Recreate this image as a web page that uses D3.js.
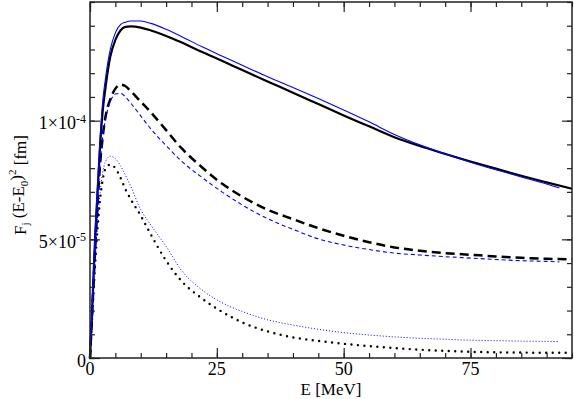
<!DOCTYPE html>
<html>
<head>
<meta charset="utf-8">
<script src="https://cdn.jsdelivr.net/npm/d3@7"></script>
<style>
    body { margin: 0; background: #fff; }
    svg { display: block; font-family: "Liberation Serif", "Times New Roman", serif; }
</style>
</head>
<body>
<svg id="chartSvg" width="574" height="399"></svg>
<script>
// energy grids (MeV); the blue curves stop a little before the end
const energyBlack = [0, 0.5, 1, 1.5, 2, 2.5, 3, 4, 5, 6, 7, 8, 10, 12, 15, 18, 22, 26, 30, 35, 40, 45, 50, 55, 60, 65, 70, 75, 80, 85, 90, 95];
const energyBlue = [0, 0.5, 1, 1.5, 2, 2.5, 3, 4, 5, 6, 7, 8, 10, 12, 15, 18, 22, 26, 30, 35, 40, 45, 50, 55, 60, 65, 70, 75, 80, 85, 90, 92.5];

// values in units of 1e-5 fm
const blackSolid = [0, 2.4, 5.0, 7.0, 9.0, 10.4, 11.3, 12.7, 13.4, 13.8, 13.95, 13.97, 13.92, 13.8, 13.57, 13.3, 12.9, 12.52, 12.13, 11.65, 11.18, 10.7, 10.22, 9.76, 9.3, 8.93, 8.6, 8.28, 7.98, 7.68, 7.4, 7.13];
const blueSolid = [0, 2.6, 5.3, 7.4, 9.3, 10.8, 11.7, 13.0, 13.7, 14.05, 14.15, 14.2, 14.2, 14.1, 13.85, 13.55, 13.12, 12.72, 12.33, 11.85, 11.4, 10.93, 10.45, 9.95, 9.42, 8.98, 8.6, 8.25, 7.93, 7.63, 7.33, 7.16];
const blackDashed = [0, 2.2, 4.5, 6.5, 8.2, 9.3, 10.1, 10.9, 11.35, 11.52, 11.45, 11.25, 10.8, 10.35, 9.6, 8.85, 8.05, 7.35, 6.8, 6.25, 5.85, 5.47, 5.15, 4.88, 4.66, 4.52, 4.42, 4.35, 4.28, 4.22, 4.18, 4.16];
const blueDashed = [0, 2.3, 4.6, 6.6, 8.2, 9.3, 10.0, 10.8, 11.12, 11.15, 11.0, 10.75, 10.2, 9.65, 8.95, 8.3, 7.62, 7.0, 6.45, 5.87, 5.42, 5.02, 4.76, 4.57, 4.42, 4.34, 4.27, 4.21, 4.15, 4.1, 4.07, 4.05];
const blackDotted = [0, 2.0, 3.9, 5.5, 6.7, 7.5, 7.95, 8.15, 8.0, 7.6, 7.1, 6.7, 6.0, 5.2, 4.1, 3.25, 2.52, 1.95, 1.5, 1.12, 0.87, 0.72, 0.6, 0.5, 0.42, 0.35, 0.3, 0.26, 0.24, 0.23, 0.22, 0.22];
const blueDotted = [0, 2.1, 4.1, 5.8, 7.0, 7.8, 8.25, 8.5, 8.4, 8.1, 7.7, 7.25, 6.25, 5.6, 4.7, 3.7, 2.88, 2.33, 1.96, 1.61, 1.39, 1.21, 1.07, 0.97, 0.89, 0.83, 0.79, 0.75, 0.73, 0.71, 0.7, 0.69];

const xTicks = [0, 25, 50, 75];
const yTicks = [0, 5e-5, 1e-4];
const yTickLabels = [["0", ""], ["5×10", "-5"], ["1×10", "-4"]];

document.addEventListener('DOMContentLoaded', function () {
    drawChart();
});

function drawChart() {
    const svg = d3.select('#chartSvg');
    const margin = { top: 2, bottom: 41, right: 2, left: 90 };
    const width = 574, height = 399;
    const innerWidth = width - margin.left - margin.right;
    const innerHeight = height - margin.top - margin.bottom;

    const xScale = d3.scaleLinear().domain([0, 95]).range([0, innerWidth]);
    const yScale = d3.scaleLinear().domain([0, 1.5e-4]).range([innerHeight, 0]);

    const g = svg.append('g')
        .attr('transform', 'translate(' + margin.left + ', ' + margin.top + ')');

    const series = [
        { x: energyBlack, y: blackSolid, color: '#000', width: 2.2, dash: null },
        { x: energyBlack, y: blackDashed, color: '#000', width: 2.5, dash: '9,5' },
        { x: energyBlack, y: blackDotted, color: '#000', width: 2.4, dash: '0,6.5', cap: 'round' },
        { x: energyBlue, y: blueSolid, color: '#0000ff', width: 1.1, dash: null },
        { x: energyBlue, y: blueDashed, color: '#0000ff', width: 1.1, dash: '4,3' },
        { x: energyBlue, y: blueDotted, color: '#0000ff', width: 1, dash: '1,2' }
    ];

    const line = d3.line()
        .x(d => xScale(d[0]))
        .y(d => yScale(d[1] * 1e-5))
        .curve(d3.curveMonotoneX);

    const plot = g.append('g');
    series.forEach(s => {
        plot.append('path')
            .datum(s.x.map((e, i) => [e, s.y[i]]))
            .attr('d', line)
            .attr('fill', 'none')
            .attr('stroke', s.color)
            .attr('stroke-width', s.width)
            .attr('stroke-dasharray', s.dash)
            .attr('stroke-linecap', s.cap || 'butt');
    });

    // ticks on all four sides, pointing inwards
    const xMinor = d3.range(0, 96, 5);
    const yMinor = d3.range(0, 1.5e-4 + 1e-9, 1e-5);
    const tickColor = '#222';

    const axisBottom = d3.axisBottom(xScale).tickValues(xTicks).tickSize(-10).tickFormat('');
    const axisBottomMinor = d3.axisBottom(xScale).tickValues(xMinor).tickSize(-5).tickFormat('');
    const axisTop = d3.axisTop(xScale).tickValues(xTicks).tickSize(-10).tickFormat('');
    const axisTopMinor = d3.axisTop(xScale).tickValues(xMinor).tickSize(-5).tickFormat('');
    const axisLeft = d3.axisLeft(yScale).tickValues(yTicks).tickSize(-10).tickFormat('');
    const axisLeftMinor = d3.axisLeft(yScale).tickValues(yMinor).tickSize(-5).tickFormat('');
    const axisRight = d3.axisRight(yScale).tickValues(yTicks).tickSize(-10).tickFormat('');
    const axisRightMinor = d3.axisRight(yScale).tickValues(yMinor).tickSize(-5).tickFormat('');

    [[axisBottom, innerHeight, 0], [axisBottomMinor, innerHeight, 0],
     [axisTop, 0, 0], [axisTopMinor, 0, 0],
     [axisLeft, 0, 0], [axisLeftMinor, 0, 0],
     [axisRight, 0, innerWidth], [axisRightMinor, 0, innerWidth]].forEach(a => {
        const ax = g.append('g')
            .attr('transform', `translate(${a[2]},${a[1]})`)
            .call(a[0]);
        ax.select('.domain').remove();
        ax.selectAll('line').attr('stroke', tickColor).attr('stroke-width', 1.2);
    });

    g.append('rect')
        .attr('x', 0).attr('y', 0)
        .attr('width', innerWidth).attr('height', innerHeight)
        .attr('fill', 'none')
        .attr('stroke', tickColor)
        .attr('stroke-width', 1.5);

    // tick labels
    g.selectAll('.xlabel')
        .data(xTicks)
        .enter()
        .append('text')
        .attr('class', 'xlabel')
        .attr('x', d => xScale(d))
        .attr('y', innerHeight + 17)
        .attr('text-anchor', 'middle')
        .style('font-size', '18px')
        .text(d => d);

    yTicks.forEach((v, i) => {
        const t = g.append('text')
            .attr('x', -4)
            .attr('y', yScale(v))
            .attr('dy', '0.48em')
            .attr('text-anchor', 'end')
            .style('font-size', '18px');
        t.append('tspan').text(yTickLabels[i][0]);
        if (yTickLabels[i][1]) {
            t.append('tspan')
                .attr('dy', '-0.55em')
                .style('font-size', '12px')
                .text(yTickLabels[i][1]);
        }
    });

    // axis titles
    g.append('text')
        .attr('x', innerWidth / 2)
        .attr('y', innerHeight + 37)
        .attr('text-anchor', 'middle')
        .style('font-size', '17px')
        .text('E [MeV]');

    const yTitle = svg.append('text')
        .attr('transform', 'translate(26,' + (margin.top + innerHeight / 2 + 5) + ') rotate(-90)')
        .attr('text-anchor', 'middle')
        .style('font-size', '17px');
    yTitle.append('tspan').text('F');
    yTitle.append('tspan').attr('dy', '0.3em').style('font-size', '11px').text('j');
    yTitle.append('tspan').attr('dy', '-0.3em').text(' (E-E');
    yTitle.append('tspan').attr('dy', '0.3em').style('font-size', '11px').text('0');
    yTitle.append('tspan').attr('dy', '-0.3em').text(')');
    yTitle.append('tspan').attr('dy', '-0.55em').style('font-size', '11px').text('2');
    yTitle.append('tspan').attr('dy', '0.55em').text(' [fm]');
}
</script>
</body>
</html>
